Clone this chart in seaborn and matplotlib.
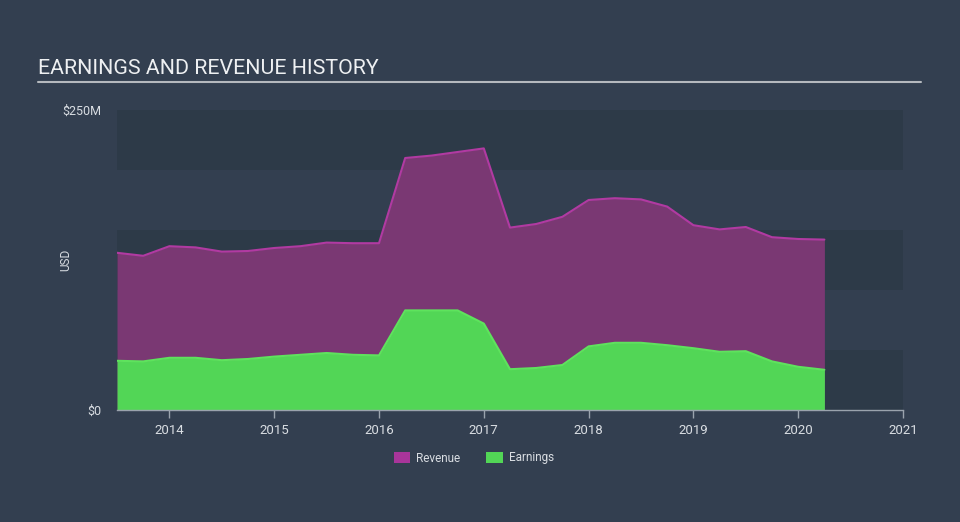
import numpy as np
import pandas as pd
import matplotlib
matplotlib.use("Agg")
import matplotlib.pyplot as plt
from matplotlib.patches import Patch
import seaborn as sns

# ---- data (USD millions, trailing twelve months, quarterly) ----
periods = [2013.50, 2013.75, 2014.00, 2014.25, 2014.50, 2014.75, 2015.00, 2015.25,
           2015.50, 2015.75, 2016.00, 2016.25, 2016.50, 2016.75, 2017.00, 2017.25,
           2017.50, 2017.75, 2018.00, 2018.25, 2018.50, 2018.75, 2019.00, 2019.25,
           2019.50, 2019.75, 2020.00, 2020.25]
revenue = [131, 128.5, 136.5, 135.5, 132, 132.5, 135, 136.5,
           139.5, 139, 139, 210, 212, 215, 218, 152,
           155, 161, 175, 176.5, 175.5, 169.5, 154, 150.5,
           152.5, 144, 142.5, 142]
earnings = [41, 40.5, 43.5, 43.5, 41.5, 42.5, 44.5, 46,
            47.5, 46, 45.5, 83, 83, 83, 72, 34,
            35, 37.5, 53, 56, 56, 54, 51.5, 48.5,
            49, 40.5, 36, 33.5]
x_ticks = [2014, 2015, 2016, 2017, 2018, 2019, 2020, 2021]
y_ticks = [0, 250]
y_tick_labels = ["$0", "$250M"]
series_names = ["Revenue", "Earnings"]

BG = "#333f50"
BAND = "#2d3a48"
TXT = "#d9dde2"
REV_FILL = "#7a3873"
REV_LINE = "#b13aa2"
REV_LEG = "#a8359a"
EARN_FILL = "#52d656"
EARN_LINE = "#5ee35d"

sns.set_theme(style="dark")
plt.rcParams["font.family"] = ["Roboto", "DejaVu Sans"]

fig = plt.figure(figsize=(9.6, 5.22), dpi=100, facecolor=BG)
ax = fig.add_axes([117 / 960, 1 - 410 / 522, 786 / 960, 300 / 522])
ax.set_facecolor(BG)

# horizontal bands
for lo, hi in [(0, 50), (100, 150), (200, 250)]:
    ax.axhspan(lo, hi, color=BAND, zorder=0, lw=0)

df = pd.DataFrame({
    "period": periods * 2,
    "value": revenue + earnings,
    "series": ["Revenue"] * len(periods) + ["Earnings"] * len(periods),
})

ax.fill_between(periods, 0, revenue, color=REV_FILL, lw=0, zorder=1)
ax.fill_between(periods, 0, earnings, color=EARN_FILL, lw=0, zorder=2)
sns.lineplot(data=df, x="period", y="value", hue="series",
             palette={"Revenue": REV_LINE, "Earnings": EARN_LINE},
             linewidth=1.5, legend=False, ax=ax, zorder=3)

ax.set_xlim(2013.5, 2021.0)
ax.set_ylim(0, 250)
ax.set_xticks(x_ticks)
ax.set_xticklabels([str(t) for t in x_ticks])
ax.set_yticks(y_ticks)
ax.set_yticklabels(y_tick_labels)
ax.set_xlabel("")
ax.set_ylabel("")

for s in ["top", "right", "left"]:
    ax.spines[s].set_visible(False)
ax.spines["bottom"].set_visible(True)
ax.spines["bottom"].set_color("#9aa3ad")
ax.spines["bottom"].set_linewidth(1)
ax.spines["bottom"].set_zorder(4)

ax.tick_params(axis="x", colors="#9aa3ad", length=6, width=1, direction="out",
               labelcolor=TXT, labelsize=9.5, pad=4, bottom=True)
ax.tick_params(axis="y", length=0, labelcolor=TXT, labelsize=9, pad=11)
ax.grid(False)

# y axis title
fig.text(66 / 960, 1 - 260 / 522, "USD", color=TXT, fontsize=8.5, rotation=90,
         ha="center", va="center")

# title and underline
fig.text(38 / 960, 1 - 68 / 522, "EARNINGS AND REVENUE HISTORY", color="#eef0f2",
         fontsize=15.4, ha="left", va="center")
fig.add_artist(plt.Line2D([38 / 960, 921 / 960], [1 - 82 / 522, 1 - 82 / 522],
                          color="#b5b9be", lw=1.5, transform=fig.transFigure))

handles = [Patch(facecolor=REV_LEG, edgecolor="none", label=series_names[0]),
           Patch(facecolor=EARN_FILL, edgecolor="none", label=series_names[1])]
leg = fig.legend(handles=handles, loc="center", bbox_to_anchor=(474 / 960, 1 - 458 / 522),
                 ncol=2, frameon=False, fontsize=8.5, labelcolor=TXT,
                 handlelength=1.4, handleheight=1.0, columnspacing=2.2, handletextpad=0.5)

fig.savefig("out.png", dpi=100, facecolor=BG)
